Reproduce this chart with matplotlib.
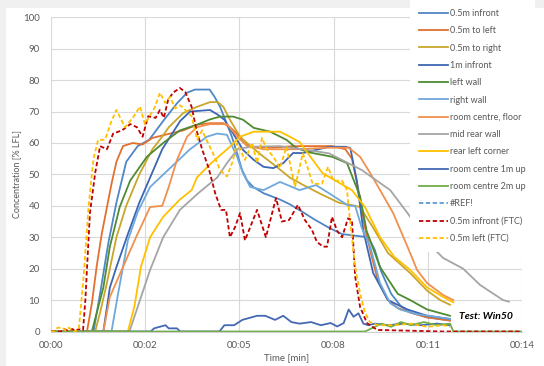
import matplotlib
matplotlib.use("Agg")
import matplotlib.pyplot as plt
from matplotlib.patches import Rectangle

plt.rcParams['font.family'] = ['Lato', 'DejaVu Sans']

# x axis in minutes, Excel style labels (hh:mm of days scale)
tick_pos = [0, 2.88, 5.76, 8.64, 11.52, 14.4]
tick_lab = ['00:00', '00:02', '00:05', '00:08', '00:11', '00:14']

# ---- series (time [min], value [% LFL]) ----
t_05inf = [0, 1.3, 1.5, 1.75, 2.0, 2.3, 2.65, 3.0, 3.43, 3.85, 4.16, 4.4, 4.6, 4.85, 5.0, 5.17, 5.38, 5.53,
           5.69, 5.84, 6.0, 6.18, 6.5, 7.0, 7.3, 7.7, 8.0, 8.5, 8.9, 9.3, 9.7, 9.9, 10.1, 10.4, 10.7, 11.0,
           11.5, 12.2]
v_05inf = [0, 0, 12, 28, 41, 54, 59, 61, 67, 72.6, 76, 77, 77, 77, 74.7, 71.5, 66, 62,
           56.7, 51.4, 48, 46, 44, 42, 40.5, 38, 36, 33, 31, 30.5, 30, 26, 19, 12, 8, 6,
           4.5, 3.5]

t_05left = [0, 1.1, 1.25, 1.4, 1.55, 1.7, 1.85, 2.0, 2.2, 2.5, 2.8, 3.1, 3.64, 4.04, 4.46, 4.86, 5.27,
            5.47, 5.69, 5.87, 6.09, 6.8, 7.4, 8.0, 8.6, 9.0, 9.2, 9.4, 9.6, 9.8, 10.0, 10.3, 10.6, 11.0,
            11.5, 12.2]
v_05left = [0, 0, 9, 21, 31, 39, 47, 54, 59, 60, 59.5, 61.6, 63, 64, 65.8, 66.3, 66.3,
            65, 63, 60.3, 58.8, 58.5, 59, 59, 59, 58, 55, 45, 33, 24, 16, 10, 7.5, 6,
            4.5, 3.5]

t_05right = [0, 1.35, 1.5, 1.7, 2.0, 2.3, 2.7, 3.1, 3.4, 3.6, 4.04, 4.46, 4.86, 5.1, 5.27, 5.47, 5.78,
             6.1, 6.5, 6.9, 7.3, 7.7, 8.2, 8.8, 9.3, 9.45, 9.85, 10.3, 10.98, 11.5, 11.9, 12.2]
v_05right = [0, 0, 6, 15, 30, 40, 50, 58, 62, 65, 69.5, 71.5, 73, 73, 71.5, 67.4, 62,
             59, 55.6, 52.4, 49, 46.7, 44, 41, 40, 39.6, 33, 25, 18.6, 13, 10, 8.5]

t_1minf = [0, 1.6, 1.8, 2.0, 2.35, 2.7, 3.03, 3.4, 3.95, 4.25, 4.86, 5.1, 5.3, 5.57, 5.87, 6.2, 6.5, 6.8,
           7.1, 7.4, 7.7, 8.5, 9.0, 9.15, 9.35, 9.55, 9.85, 10.3, 10.9, 11.5, 12.2]
v_1minf = [0, 0, 14, 20.5, 31, 41, 49, 58, 67, 70, 70.5, 69, 67.4, 63, 57.8, 54.6, 52.4, 52,
           53.6, 56.8, 56.8, 58.8, 58.8, 58.4, 48, 32, 18.6, 10, 7, 5, 4]

t_lwall = [0, 1.25, 1.6, 1.8, 2.1, 2.42, 2.93, 3.43, 3.94, 4.46, 4.86, 5.17, 5.57, 5.87, 6.2, 6.7, 7.2,
           7.5, 7.9, 8.6, 9.05, 9.45, 9.65, 10.06, 10.6, 10.98, 11.5, 12.2]
v_lwall = [0, 0, 14, 27, 39.6, 48, 55.6, 60, 64, 65.8, 67.5, 68.4, 68.4, 67.4, 64.8, 63.6, 61,
           58.4, 57, 55.6, 53.6, 43, 32, 20.5, 12, 10, 7, 5]

t_rwall = [0, 1.85, 2.05, 2.35, 2.65, 3.03, 3.64, 4.25, 4.77, 5.08, 5.38, 5.69, 5.87, 6.09, 6.5, 7.0,
           7.6, 8.1, 8.5, 9.1, 9.3, 9.5, 9.76, 10.06, 10.37, 10.67, 11.2, 12.2]
v_rwall = [0, 0, 12, 29, 38, 46, 52, 58, 62, 63, 62.6, 55.6, 50.4, 46, 45, 47.6,
           45, 46.6, 44, 40, 40, 33, 27, 15.4, 9, 7, 5.5, 4]

t_floor = [0, 1.6, 1.8, 2.2, 2.6, 3.03, 3.4, 3.6, 3.85, 4.16, 4.46, 4.86, 5.38, 5.7, 6.0, 6.5, 7.5, 8.5,
           9.1, 9.45, 9.76, 10.06, 10.46, 10.98, 11.19, 11.5, 11.99, 12.3]
v_floor = [0, 0, 11, 20.5, 30, 39.6, 40, 46, 54.6, 62, 65, 66, 66, 62, 59, 58, 58, 58.5,
           58.5, 55.6, 50.4, 45, 37.7, 25, 19.6, 15.4, 11.6, 10]

t_rear = [0, 2.4, 2.72, 3.03, 3.43, 3.94, 4.5, 5.08, 5.38, 5.7, 6.1, 7.0, 8.0, 8.5, 9.5, 10.37, 10.9,
          11.59, 11.99, 12.6, 13.12, 13.82, 14.0]
v_rear = [0, 0, 10, 19.6, 30, 38.7, 44, 49, 53.6, 58, 58.8, 59, 57.5, 56.7, 51.4, 45, 37.7,
          27.5, 23.4, 20, 14.8, 10, 9.5]

t_corner = [0, 2.35, 2.55, 2.75, 3.03, 3.43, 3.94, 4.3, 4.46, 4.9, 5.47, 5.78, 6.2, 7.0, 7.3, 7.6, 8.3,
            8.7, 9.2, 9.6, 10.06, 10.5, 10.98, 11.5, 11.99, 12.3]
v_corner = [0, 0, 8, 20.6, 30, 36.5, 42, 45, 49, 53.6, 58.8, 62, 63.6, 63.6, 62, 60.3, 50.4,
            48, 45, 39.6, 30, 23.7, 19.6, 14, 11, 9.3]

t_1mup = [0, 3.05, 3.15, 3.5, 3.6, 3.85, 3.95, 5.15, 5.3, 5.6, 5.85, 6.3, 6.55, 6.85, 7.1, 7.35, 7.6,
          7.95, 8.25, 8.55, 8.75, 8.95, 9.1, 9.25, 9.4, 9.55, 9.7, 9.9, 10.3, 10.8, 11.3, 11.8, 12.2]
v_1mup = [0, 0, 1, 2, 1, 1, 0, 0, 2, 2, 3.7, 5, 5, 3.7, 5, 3, 2.5,
          3, 2, 2.7, 1.6, 2.7, 7, 4.7, 5.8, 2.5, 2, 2.5, 2, 2.5, 2, 2.5, 2]

t_2mup = [0, 9.6, 9.8, 10.1, 10.4, 10.7, 11.0, 11.4, 11.8, 12.2, 12.3, 14.4]
v_2mup = [0, 0, 1, 2.5, 1.5, 3, 2, 3, 2, 2.5, 0, 0]

t_ref = []
v_ref = []

t_ftc_inf = [0, 0.3, 0.4, 0.5, 0.65, 0.75, 0.85, 0.98, 1.05, 1.19, 1.35, 1.5, 1.71, 1.9, 2.17, 2.42,
             2.63, 2.8, 2.97, 3.2, 3.33, 3.45, 3.58, 3.73, 3.94, 4.1, 4.3, 4.45, 4.62, 4.82, 5.02, 5.2,
             5.35, 5.47, 5.63, 5.78, 5.93, 6.3, 6.57, 6.88, 7.06, 7.28, 7.55, 7.76, 7.98, 8.13, 8.32,
             8.44, 8.59, 8.75, 8.9, 9.08, 9.2, 9.3, 9.45, 9.66, 9.97, 12.0, 14.4]
v_ftc_inf = [0, 0, 0.8, 0.3, 0.8, 0.2, 0.8, 0.5, 10, 37.7, 50.4, 59, 58, 63, 64, 66,
             65, 62, 68.5, 68, 70.5, 68, 73.7, 76, 77.5, 76.3, 71.5, 64, 58, 52, 44, 38.7,
             38.7, 30, 33.3, 37.7, 29, 38.7, 30, 42.5, 35, 35.5, 40.3, 35.5, 32.3, 28.5, 27,
             27, 36.5, 32, 30, 36, 35.5, 17.4, 7.8, 2.7, 0.5, 0, 0]

t_ftc_left = [0, 0.1, 0.2, 0.35, 0.45, 0.55, 0.7, 0.85, 1.0, 1.15, 1.3, 1.44, 1.65, 1.85, 2.0, 2.26, 2.5,
              2.72, 2.87, 3.18, 3.33, 3.49, 3.64, 3.8, 3.95, 4.16, 4.3, 4.47, 4.62, 4.8, 4.95, 5.17, 5.38,
              5.55, 5.69, 5.93, 6.15, 6.3, 6.45, 6.6, 6.8, 7.0, 7.2, 7.46, 7.7, 7.85, 8.0, 8.28, 8.47,
              8.63, 8.9, 9.05, 9.14, 9.3, 9.45, 9.6, 9.75, 10.0, 10.5, 11.0, 11.5, 12.0, 12.2]
v_ftc_left = [0, 0, 1.2, 1.2, 0.3, 1.2, 0, 0.5, 18, 40, 55, 61, 61, 67, 70.5, 65, 68,
              71.6, 66, 71.5, 76, 72.8, 74.7, 71, 72, 70, 68.5, 61, 64, 60, 56.8, 51.4, 49.3,
              54, 60, 54.6, 60, 53.6, 61.6, 58, 55.6, 52, 58.8, 46, 56.7, 52, 47, 47, 52.4,
              48, 48, 45, 35.5, 20.5, 12, 6, 3, 2, 2, 2.5, 1.5, 2, 1.5]

fig = plt.figure(figsize=(5.44, 3.66), dpi=100)
fig.patch.set_facecolor('#f0f0f0')
fig.patches.append(Rectangle((6 / 544, 0), 1, 1 - 8 / 366, transform=fig.transFigure,
                             facecolor='white', edgecolor='none', zorder=-5))

ax = fig.add_axes([51 / 544, 1 - 331.5 / 366, 471 / 544, 314.2 / 366])
ax.set_facecolor('none')
ax.set_zorder(2)

lw = 1.3
dash = (0, (2.4, 1.4))
ax.plot(t_05inf, v_05inf, color='#4F86C6', lw=lw, label='0.5m infront')
ax.plot(t_05left, v_05left, color='#E2702E', lw=lw, label='0.5m to left')
ax.plot(t_05right, v_05right, color='#C9A62A', lw=lw, label='0.5m to right')
ax.plot(t_1minf, v_1minf, color='#3B66B3', lw=lw, label='1m infront')
ax.plot(t_lwall, v_lwall, color='#4E8B32', lw=lw, label='left wall')
ax.plot(t_rwall, v_rwall, color='#6FA8DC', lw=lw, label='right wall')
ax.plot(t_floor, v_floor, color='#F0904F', lw=lw, label='room centre, floor')
ax.plot(t_rear, v_rear, color='#A5A5A5', lw=lw, label='mid rear wall')
ax.plot(t_corner, v_corner, color='#FFC000', lw=lw, label='rear left corner')
ax.plot(t_1mup, v_1mup, color='#4468B4', lw=lw, label='room centre 1m up')
ax.plot(t_2mup, v_2mup, color='#70AD47', lw=lw, label='room centre 2m up')
ax.plot(t_ref, v_ref, color='#5B9BD5', lw=lw, ls=dash, label='#REF!')
ax.plot(t_ftc_inf, v_ftc_inf, color='#C00000', lw=lw, ls=dash, label='0.5m infront (FTC)')
ax.plot(t_ftc_left, v_ftc_left, color='#FFC000', lw=lw, ls=dash, label='0.5m left (FTC)')

ax.set_xlim(0, 14.4)
ax.set_ylim(0, 100)
ax.set_xticks(tick_pos)
ax.set_xticklabels(tick_lab)
ax.set_yticks(range(0, 101, 10))
ax.grid(True, color='#d9d9d9', lw=0.8)
ax.set_axisbelow(True)
for s in ['top', 'right', 'left']:
    ax.spines[s].set_visible(False)
ax.spines['bottom'].set_color('#d0d0d0')
ax.tick_params(length=0, labelsize=7, colors='#595959')
ax.tick_params(axis='y', pad=8)
ax.tick_params(axis='x', pad=7)
ax.set_xlabel('Time [min]', fontsize=7, color='#595959', labelpad=2)
ax.set_ylabel('Concentration [% LFL]', fontsize=6.5, color='#595959', labelpad=1.5)

leg = ax.legend(loc='upper left', bbox_to_anchor=(410 / 544, 1.0), bbox_transform=fig.transFigure,
                fontsize=6.5, frameon=True, fancybox=False, borderaxespad=0, borderpad=1.0,
                labelspacing=0.92, handlelength=3.2, handletextpad=0.25)
leg.get_frame().set_facecolor('white')
leg.get_frame().set_edgecolor('none')
leg.get_frame().set_alpha(1)
for txt in leg.get_texts():
    txt.set_color('#595959')

ax.text(13.3, 4.9, 'Test: Win50', fontsize=7.5, fontweight='bold', fontstyle='italic',
        ha='center', va='center', zorder=6,
        bbox=dict(boxstyle='square,pad=0.6', facecolor='white', edgecolor='none'))

fig.savefig('out.png', dpi=100)
